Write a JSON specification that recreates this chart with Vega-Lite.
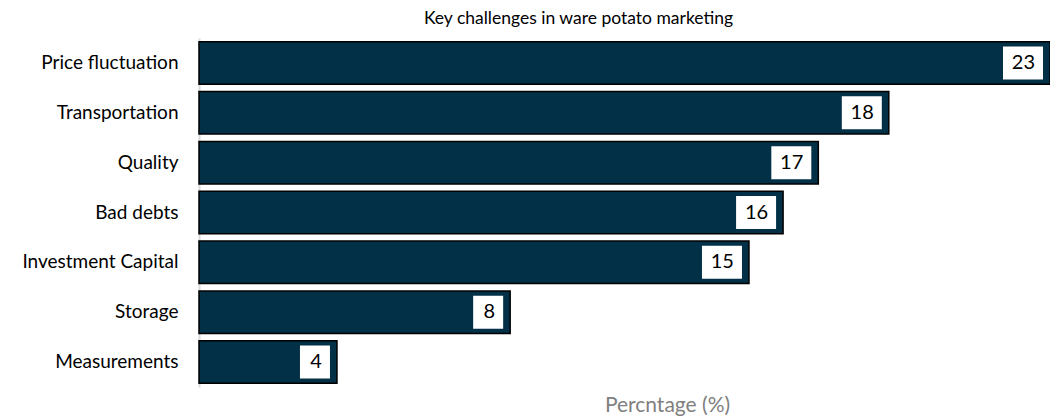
{
  "$schema": "https://vega.github.io/schema/vega-lite/v6.json",
  "width": 851,
  "height": 349,
  "autosize": {"type": "none"},
  "padding": {"left": 199, "top": 38, "right": 0, "bottom": 30},
  "background": "white",
  "title": {
    "text": "Key challenges in ware potato marketing",
    "fontSize": 17.5,
    "font": "Lato",
    "fontWeight": "normal",
    "color": "#000000",
    "anchor": "middle",
    "frame": "group",
    "dx": -46,
    "baseline": "alphabetic",
    "offset": -3
  },
  "data": {
    "values": [
      {"challenge": "Price fluctuation", "value": 22.85},
      {"challenge": "Transportation", "value": 18.40},
      {"challenge": "Quality", "value": 16.52},
      {"challenge": "Bad debts", "value": 15.58},
      {"challenge": "Investment Capital", "value": 14.67},
      {"challenge": "Storage", "value": 8.30},
      {"challenge": "Measurements", "value": 3.68}
    ]
  },
  "encoding": {
    "y": {
      "field": "challenge",
      "type": "nominal",
      "sort": ["Price fluctuation", "Transportation", "Quality", "Bad debts", "Investment Capital", "Storage", "Measurements"],
      "scale": {"paddingInner": 0.146, "paddingOuter": 0.075},
      "axis": {
        "title": null,
        "domain": true,
        "domainColor": "#d9d9d9",
        "domainWidth": 2,
        "ticks": false,
        "labelFontSize": 19,
        "labelFont": "Lato",
        "labelColor": "#000000",
        "labelPadding": 21
      }
    },
    "x": {
      "field": "value",
      "type": "quantitative",
      "scale": {"domain": [0, 22.7], "clamp": true, "nice": false, "zero": true},
      "axis": {
        "labels": false,
        "ticks": false,
        "domain": false,
        "grid": false,
        "title": "Percntage (%)",
        "titleColor": "#808080",
        "titleFont": "Lato",
        "titleFontSize": 21,
        "titleFontWeight": "normal",
        "titleX": 468,
        "titleY": 24,
        "titleAlign": "center",
        "titleBaseline": "alphabetic"
      }
    }
  },
  "layer": [
    {
      "mark": {"type": "bar", "fill": "#023047", "stroke": "#000000", "strokeWidth": 1.5}
    },
    {
      "transform": [{"filter": "datum.value >= 9.5"}],
      "mark": {"type": "bar", "fill": "#ffffff", "height": 33, "xOffset": -47, "x2Offset": -7},
      "encoding": {"x2": {"field": "value"}}
    },
    {
      "transform": [{"filter": "datum.value < 9.5"}],
      "mark": {"type": "bar", "fill": "#ffffff", "height": 33, "xOffset": -37, "x2Offset": -7},
      "encoding": {"x2": {"field": "value"}}
    },
    {
      "mark": {"type": "text", "align": "right", "baseline": "middle", "dx": -15, "fontSize": 20, "font": "Lato", "color": "#000000"},
      "encoding": {"text": {"field": "value", "type": "quantitative", "format": ".0f"}}
    }
  ],
  "config": {
    "view": {"stroke": null},
    "axis": {"grid": false}
  }
}
